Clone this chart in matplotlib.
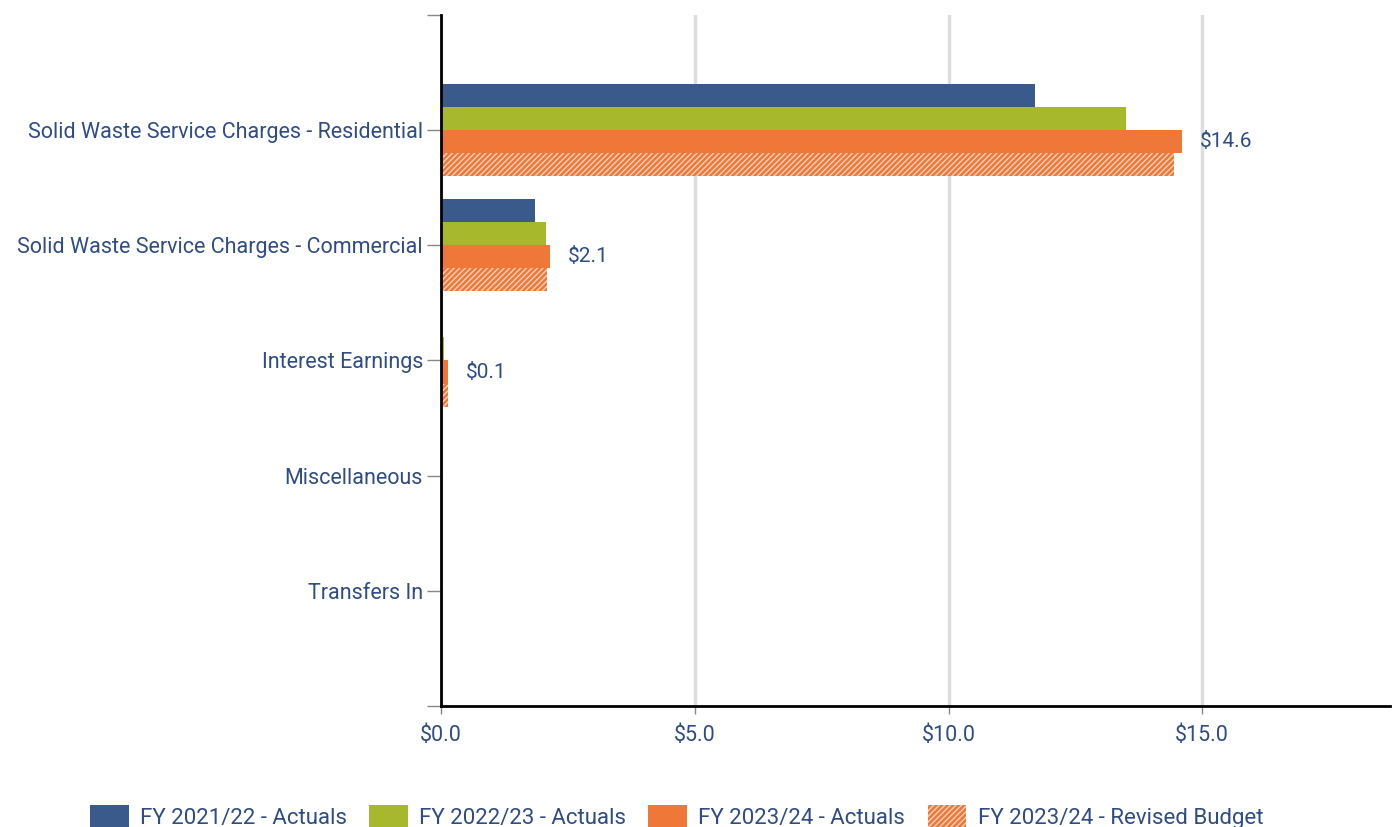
import matplotlib.pyplot as plt
import numpy as np

plt.rcParams['font.family'] = ['Roboto', 'DejaVu Sans']
plt.rcParams['hatch.linewidth'] = 1.0

categories = ["Solid Waste Service Charges - Residential",
              "Solid Waste Service Charges - Commercial",
              "Interest Earnings",
              "Miscellaneous",
              "Transfers In"]
fy2122 = [11.70, 1.85, 0.0, 0.0, 0.0]
fy2223 = [13.50, 2.06, 0.05, 0.0, 0.0]
fy2324 = [14.60, 2.15, 0.13, 0.0, 0.0]
fy2324_rev = [14.45, 2.08, 0.14, 0.0, 0.0]
series_names = ["FY 2021/22 - Actuals", "FY 2022/23 - Actuals",
                "FY 2023/24 - Actuals", "FY 2023/24 - Revised Budget"]

txt = '#2f4c86'
blue = '#3a5a8c'
green = '#a8b82c'
orange = '#ef7838'

fig = plt.figure(figsize=(13.92, 8.27), dpi=100)
ax = fig.add_axes([0.3168, 0.1463, 0.6818, 0.8356])

y = np.arange(len(categories))
h = 0.2
ax.barh(y - 0.3, fy2122, h, color=blue, label=series_names[0], zorder=3)
ax.barh(y - 0.1, fy2223, h, color=green, label=series_names[1], zorder=3)
ax.barh(y + 0.1, fy2324, h, color=orange, label=series_names[2], zorder=3)
ax.barh(y + 0.3, fy2324_rev, h, color=orange, edgecolor='#fbd3bd', linewidth=0,
        hatch='//////', label=series_names[3], zorder=3)

for yi, v in zip(y, fy2324):
    if v > 0:
        ax.annotate('$%.1f' % v, (v, yi + 0.1), xytext=(13, 0), textcoords='offset points',
                    va='center', ha='left', fontsize=15, color=txt)

ax.set_ylim(len(categories), -1)
ax.set_xlim(0, 18.7)
ax.set_yticks(y)
ax.set_yticklabels(categories)
ax.set_yticks([-1, len(categories)], minor=True)
ax.set_xticks([0, 5, 10, 15])
ax.set_xticklabels(['$%.1f' % t for t in [0, 5, 10, 15]])
ax.tick_params(axis='y', which='both', length=10, width=1, color='#888888', labelsize=15.5,
               labelcolor=txt, pad=3)
ax.tick_params(axis='x', length=6, width=1, color='#888888', labelsize=15.5, labelcolor=txt, pad=8)

ax.grid(axis='x', color='#dddddd', linewidth=2.5, zorder=0)
for s in ['top', 'right']:
    ax.spines[s].set_visible(False)
ax.spines['left'].set_linewidth(2)
ax.spines['bottom'].set_linewidth(2)
ax.spines['left'].set_zorder(4)

fig.legend(loc='lower center', bbox_to_anchor=(0.486, -0.026), ncol=4, frameon=False,
           fontsize=16, labelcolor=txt, handlelength=1.75, handleheight=1.2,
           columnspacing=1.0, handletextpad=0.5)

fig.savefig('out.png', dpi=100)
